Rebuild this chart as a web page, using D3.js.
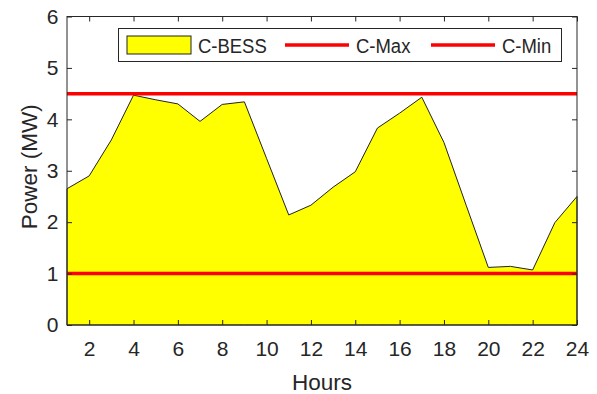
<!DOCTYPE html>
<html>
<head>
<meta charset="utf-8">
<script src="https://cdn.jsdelivr.net/npm/d3@7"></script>
<style>
  body { margin: 0; background: #fff; }
  svg text { font-family: "Liberation Sans", Arial, sans-serif; fill: #262626; }
</style>
</head>
<body>
<div id="chart"></div>
<script>
// hourly charging power of the BESS (MW)
const hours = d3.range(1, 25);
const bessPower = [2.65, 2.90, 3.60, 4.47, 4.38, 4.30, 3.96, 4.29, 4.34, 3.24, 2.14, 2.33,
                   2.68, 2.98, 3.83, 4.12, 4.43, 3.55, 2.33, 1.12, 1.14, 1.07, 1.99, 2.50];
const cMax = 4.5;
const cMin = 1.0;
const xTicks = [2, 4, 6, 8, 10, 12, 14, 16, 18, 20, 22, 24];
const yTicks = [0, 1, 2, 3, 4, 5, 6];
const legendItems = ["C-BESS", "C-Max", "C-Min"];

const width = 597, height = 394;
const margin = { left: 67, right: 20, top: 16.5, bottom: 69 };

const svg = d3.select("#chart").append("svg")
  .attr("width", width)
  .attr("height", height);

const x = d3.scaleLinear().domain([1, 24]).range([margin.left, width - margin.right]);
const y = d3.scaleLinear().domain([0, 6]).range([height - margin.bottom, margin.top]);

const data = hours.map((h, i) => ({ h: h, v: bessPower[i] }));

// filled area
const area = d3.area()
  .x(d => x(d.h))
  .y0(y(0))
  .y1(d => y(d.v));

svg.append("path")
  .datum(data)
  .attr("d", area)
  .attr("fill", "#ffff00")
  .attr("stroke", "#222")
  .attr("stroke-width", 1)
  .attr("stroke-linejoin", "miter");

// limit lines
[cMax, cMin].forEach(v => {
  svg.append("line")
    .attr("x1", x(1)).attr("x2", x(24))
    .attr("y1", y(v)).attr("y2", y(v))
    .attr("stroke", "#ff0000")
    .attr("stroke-width", 3.5);
});

// axes (ticks inside, box style)
const tickLen = 5;
const axisColor = "#262626";

const xAxis = svg.append("g")
  .attr("transform", `translate(0,${y(0)})`)
  .call(d3.axisBottom(x).tickValues(xTicks).tickSize(-tickLen).tickPadding(16.5));
const yAxis = svg.append("g")
  .attr("transform", `translate(${x(1)},0)`)
  .call(d3.axisLeft(y).tickValues(yTicks).tickSize(-tickLen).tickPadding(8.5).tickFormat(d3.format("d")));
const xTop = svg.append("g")
  .attr("transform", `translate(0,${y(6)})`)
  .call(d3.axisTop(x).tickValues(xTicks).tickSize(-tickLen).tickFormat(""));
const yRight = svg.append("g")
  .attr("transform", `translate(${x(24)},0)`)
  .call(d3.axisRight(y).tickValues(yTicks).tickSize(-tickLen).tickFormat(""));

[xAxis, yAxis, xTop, yRight].forEach(g => {
  g.select(".domain").remove();
  g.selectAll(".tick line").attr("stroke", axisColor);
  g.selectAll("text")
    .style("font-size", "21px")
    .style("font-family", "Liberation Sans, Arial, sans-serif")
    .attr("fill", axisColor);
});

svg.append("rect")
  .attr("x", x(1)).attr("y", y(6))
  .attr("width", x(24) - x(1)).attr("height", y(0) - y(6))
  .attr("fill", "none")
  .attr("stroke", axisColor)
  .attr("stroke-width", 1);

// axis labels
svg.append("text")
  .attr("x", (x(1) + x(24)) / 2)
  .attr("y", 390)
  .attr("text-anchor", "middle")
  .style("font-size", "22.5px")
  .text("Hours");

svg.append("text")
  .attr("transform", `translate(37,${(y(0) + y(6)) / 2 - 4}) rotate(-90)`)
  .attr("text-anchor", "middle")
  .style("font-size", "22.5px")
  .text("Power (MW)");

// legend
const legend = svg.append("g");
legend.append("rect")
  .attr("x", 118.5).attr("y", 28.5)
  .attr("width", 443).attr("height", 33)
  .attr("fill", "#fff")
  .attr("stroke", axisColor)
  .attr("stroke-width", 1);

const legendX = [127, 285, 431];
legendItems.forEach((name, i) => {
  const lx = legendX[i];
  if (i === 0) {
    legend.append("rect")
      .attr("x", lx).attr("y", 36)
      .attr("width", 64).attr("height", 18)
      .attr("fill", "#ffff00")
      .attr("stroke", "#222")
      .attr("stroke-width", 1);
  } else {
    legend.append("line")
      .attr("x1", lx).attr("x2", lx + 64)
      .attr("y1", 45).attr("y2", 45)
      .attr("stroke", "#ff0000")
      .attr("stroke-width", 3.5);
  }
  legend.append("text")
    .attr("transform", `translate(${lx + 71},53) scale(0.88,1)`)
    .style("font-size", "21px")
    .text(name);
});
</script>
</body>
</html>
